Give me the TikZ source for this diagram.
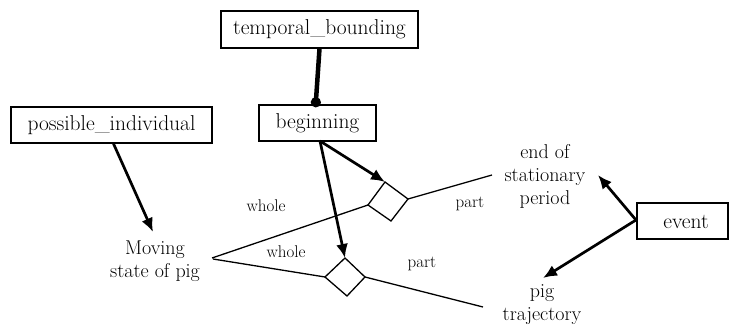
\documentclass[tikz,border=0pt]{standalone}
\usetikzlibrary{arrows.meta}
\begin{document}
\begin{tikzpicture}[x=1pt,y=-1pt,
  box/.style={draw,line width=1.4pt,inner sep=0pt,font=\fontsize{21.5}{23}\selectfont},
  lbl/.style={align=center,inner sep=0pt,font=\fontsize{20}{23}\selectfont},
  small/.style={inner sep=0pt,font=\fontsize{17}{18}\selectfont},
  arr/.style={line width=2.7pt,-{Latex[length=14pt,width=12pt]}},
  thin/.style={line width=1.3pt}]
\useasboundingbox (0,0) rectangle (729,329);
% boxes
\node[box,minimum width=197pt,minimum height=37pt] (tb) at (319.5,29.5) {temporal\_bounding};
\node[box,minimum width=117pt,minimum height=36pt] (beg) at (317.5,123) {beginning};
\node[box,minimum width=201pt,minimum height=36pt] (pi) at (111.5,125) {possible\_individual};
\node[draw,line width=1.4pt,minimum width=91pt,minimum height=36pt] (ev) at (682.5,221) {};
\node[box,draw=none] (evt) at (686,222) {event};
% labels
\node[lbl] (ms) at (155,261) {Moving\\state of pig};
\node[lbl] (esp) at (545,176) {end of\\stationary\\period};
\node[lbl] (pt) at (542,305) {pig\\trajectory};
\node[small] (w1) at (266,206) {whole};
\node[small] (w2) at (286,252) {whole};
\node[small] (p1) at (470,204) {part};
\node[small] (p2) at (422,264) {part};
% diamond corners
\coordinate (d1t) at (385,182);
\coordinate (d1r) at (408,199);
\coordinate (d1b) at (391,221);
\coordinate (d1l) at (368,205);
\coordinate (d2t) at (345,258);
\coordinate (d2r) at (365,277);
\coordinate (d2b) at (347,296);
\coordinate (d2l) at (325,277);
\coordinate (msA) at (212,258);
\coordinate (msB) at (213,259);
\coordinate (e1) at (492,175);
\coordinate (e2) at (483,307);
\coordinate (begS) at (320,141);
\coordinate (evW) at (636,220);
% diamonds and lines
\draw[thin] (d1t) -- (d1r) -- (d1b) -- (d1l) -- cycle;
\draw[thin] (d2t) -- (d2r) -- (d2b) -- (d2l) -- cycle;
\draw[thin] (msA) -- (d1l);
\draw[thin] (d1r) -- (e1);
\draw[thin] (msB) -- (d2l);
\draw[thin] (d2r) -- (e2);
% connectors
\draw[line width=4.5pt,-{Circle[length=10pt,width=10pt]}] (tb.south) -- ([xshift=-2pt,yshift=-3pt]beg.north);
\draw[arr] ([xshift=2pt]pi.south) -- (153,232);
\draw[arr] (begS) -- (d1t);
\draw[arr] (begS) -- (d2t);
\draw[arr] (evW) -- (598,175);
\draw[arr] (evW) -- (543,278);
\end{tikzpicture}
\end{document}
